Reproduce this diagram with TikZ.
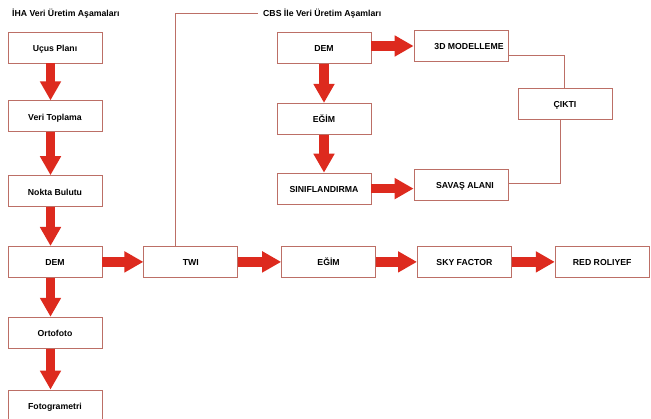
\documentclass[tikz,border=0pt]{standalone}
\usepackage{fontspec}
\setmainfont{Liberation Sans}
\usepackage{tikz}
\usetikzlibrary{arrows.meta,positioning,calc}
\definecolor{flowred}{HTML}{DD2A1E}
\definecolor{boxline}{HTML}{BC6F66}

\begin{document}
\begin{tikzpicture}[x=1pt,y=-1pt,
every node/.style={font=\bfseries\fontsize{8.7}{10}\selectfont},
box/.style={draw=boxline,line width=0.8pt,fill=white,minimum width=94pt,minimum height=31pt,inner sep=2pt,text height=9pt,text depth=1pt,align=center},
bigarr/.style={-{Triangle[length=19pt,width=20pt]},line width=9.5pt,draw=flowred},
link/.style={draw=boxline,line width=0.8pt},
ttl/.style={anchor=west,inner sep=0pt}
]
\useasboundingbox[fill=white] (0,0) rectangle (651,419);

\node[ttl] (ttl1) at (12,13.5) {İHA Veri Üretim Aşamaları};
\node[ttl] (ttl2) at (263,13.5) {CBS İle Veri Üretim Aşamları};

\node[box] (ucus) at (55,47.5) {Uçus Planı};
\node[box,below=37pt of ucus]  (veri)  {Veri Toplama};
\node[box,below=43pt of veri]  (nokta) {Nokta Bulutu};
\node[box,below=39pt of nokta] (dem)   {DEM};
\node[box,below=39pt of dem]   (orto)  {Ortofoto};
\node[box,below=41pt of orto]  (foto)  {Fotogrametri};

\node[box,right=41pt of dem]   (twi)   {TWI};
\node[box,right=43pt of twi]   (egim)  {EĞİM};
\node[box,right=41pt of egim]  (sky)   {SKY FACTOR};
\node[box,right=43pt of sky]   (red)   {RED ROLIYEF};

\node[box] (cbsdem) at (324,48) {DEM};
\node[box,below=39pt of cbsdem] (cbsegim) {EĞİM};
\node[box,below=38pt of cbsegim] (sinif) {SINIFLANDIRMA};
\node[box] (model) at (461,46) {\hspace*{16pt}3D MODELLEME};
\node[box] (cikti) at (565,103.5) {ÇIKTI};
\node[box] (savas) at (461,185) {\hspace*{8pt}SAVAŞ ALANI};

\draw[bigarr] ([xshift=-4.5pt]ucus.south)  -- ([xshift=-4.5pt]veri.north);
\draw[bigarr] ([xshift=-4.5pt]veri.south)  -- ([xshift=-4.5pt]nokta.north);
\draw[bigarr] ([xshift=-4.5pt]nokta.south) -- ([xshift=-4.5pt]dem.north);
\draw[bigarr] ([xshift=-4.5pt]dem.south)   -- ([xshift=-4.5pt]orto.north);
\draw[bigarr] ([xshift=-4.5pt]orto.south)  -- ([xshift=-4.5pt]foto.north);

\draw[bigarr] (dem) -- (twi);
\draw[bigarr] (twi) -- (egim);
\draw[bigarr] (egim) -- (sky);
\draw[bigarr] (sky) -- (red);

\draw[bigarr] (cbsdem) -- (cbsegim);
\draw[bigarr] (cbsegim) -- (sinif);
\draw[bigarr] (cbsdem.east |- model.west) -- (model.west);
\draw[bigarr] (sinif.east) -- (savas.west |- sinif.east);

\coordinate (cbs) at ([xshift=-5pt]ttl2.west);
\draw[link] ([xshift=-15pt]twi.north) |- (cbs);
\draw[link] ([yshift=-9pt]model.east) -| ([xshift=-1pt]cikti.north);
\draw[link] ([xshift=-5pt]cikti.south) |- ([yshift=2pt]savas.east);
\end{tikzpicture}
\end{document}
